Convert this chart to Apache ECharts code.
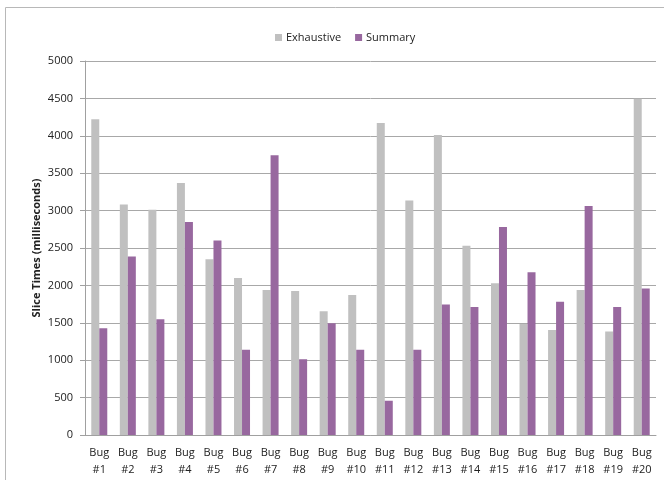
<!DOCTYPE html>
<html>
<head>
<meta charset="utf-8">
<script src="https://cdn.jsdelivr.net/npm/echarts@6/dist/echarts.min.js"></script>
<style>
  html, body { margin: 0; padding: 0; background: #fff; }
  #chart { width: 664px; height: 480px; }
</style>
</head>
<body>
<div id="chart"></div>
<script>
const categories = ["Bug #1", "Bug #2", "Bug #3", "Bug #4", "Bug #5", "Bug #6", "Bug #7", "Bug #8", "Bug #9", "Bug #10",
  "Bug #11", "Bug #12", "Bug #13", "Bug #14", "Bug #15", "Bug #16", "Bug #17", "Bug #18", "Bug #19", "Bug #20"];
const exhaustive = [4220, 3080, 3010, 3370, 2350, 2100, 1940, 1925, 1655, 1870,
  4170, 3135, 4010, 2530, 2030, 1485, 1405, 1940, 1385, 4495];
const summary = [1428, 2388, 1548, 2848, 2600, 1140, 3740, 1013, 1495, 1140,
  458, 1140, 1745, 1710, 2780, 2175, 1780, 3062, 1710, 1960];

const font = "'Open Sans', 'DejaVu Sans', sans-serif";
const chart = echarts.init(document.getElementById("chart"));

chart.setOption({
  animation: false,
  textStyle: { fontFamily: font },
  graphic: [
    {
      type: "rect",
      shape: { x: 5.5, y: 7.5, width: 720, height: 520 },
      style: { fill: "none", stroke: "#b8b8b8", lineWidth: 1 },
      silent: true,
    },
  ],
  legend: {
    data: ["Exhaustive", "Summary"],
    top: 27,
    left: 270,
    itemWidth: 7,
    itemHeight: 7,
    itemGap: 14,
    icon: "rect",
    textStyle: { fontSize: 11, color: "#222", fontFamily: font, padding: [0, 0, 0, -1] },
  },
  grid: { left: 85, right: 8, top: 61, bottom: 45 },
  xAxis: {
    type: "category",
    data: categories,
    axisLine: { lineStyle: { color: "#a0a0a0" } },
    axisTick: { length: 5, lineStyle: { color: "#a0a0a0" } },
    axisLabel: {
      interval: 0,
      color: "#222",
      fontSize: 11,
      lineHeight: 17,
      margin: 9,
      formatter: (v) => v.replace(" ", "\n"),
    },
  },
  yAxis: {
    type: "value",
    min: 0,
    max: 5000,
    interval: 500,
    name: "Slice Times (milliseconds)",
    nameLocation: "middle",
    nameGap: 43,
    nameMoveOverlap: false,
    nameTextStyle: { fontSize: 11, fontWeight: "bold", color: "#222" },
    axisLine: { show: true, lineStyle: { color: "#a0a0a0" } },
    axisTick: { show: true, inside: false, length: 5, lineStyle: { color: "#a0a0a0" } },
    axisLabel: { color: "#222", fontSize: 11, margin: 12, formatter: (v) => String(v) },
    splitLine: { lineStyle: { color: "#a8a8a8", width: 1 } },
  },
  series: [
    {
      name: "Exhaustive",
      type: "bar",
      data: exhaustive,
      barWidth: 8,
      barGap: "0%",
      itemStyle: { color: "#c0c0c0" },
    },
    {
      name: "Summary",
      type: "bar",
      data: summary,
      barWidth: 8,
      itemStyle: { color: "#98689f" },
    },
  ],
});
</script>
</body>
</html>
